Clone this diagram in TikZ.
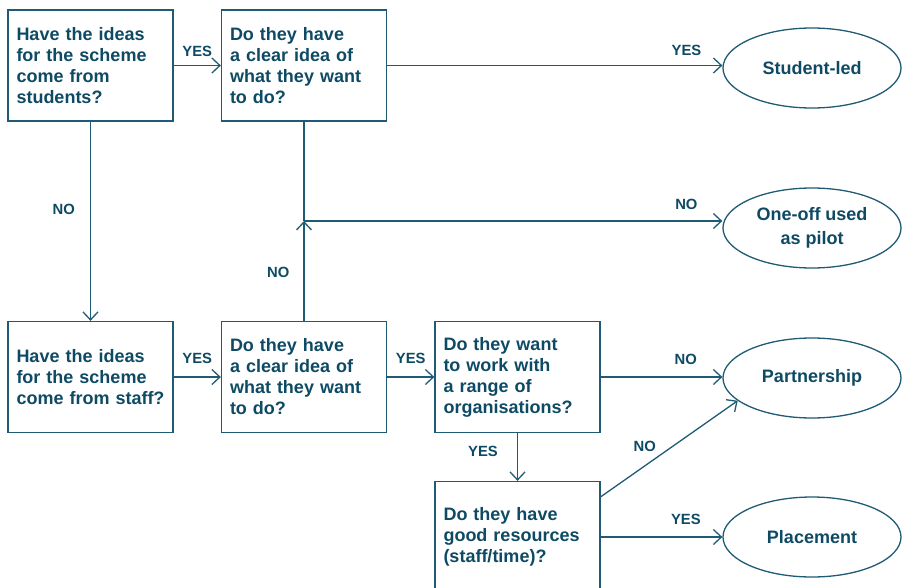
\documentclass[tikz,border=0pt]{standalone}
\usepackage{fontspec}
\setmainfont{Liberation Sans}
\usetikzlibrary{shapes.geometric,arrows.meta,calc}
\definecolor{ink}{HTML}{0E4A64}
\definecolor{linec}{HTML}{1F5B74}
\begin{document}
\begin{tikzpicture}[x=1pt,y=-1pt,
  box/.style={draw=linec, line width=1.3pt, rectangle, minimum width=165pt, minimum height=111pt,
    text width=148pt, inner xsep=8.5pt, align=left, text=ink,
    font=\fontsize{18}{21}\selectfont\bfseries},
  oval/.style={draw=linec, line width=1.3pt, ellipse, minimum width=178pt, minimum height=80pt,
    inner sep=0pt, text=ink, font=\fontsize{18}{24}\selectfont\bfseries, align=center},
  arr/.style={draw=linec, line width=1.3pt, -{Straight Barb[length=8pt,width=15pt,line width=1.3pt]}},
  ln/.style={draw=linec, line width=1.3pt},
  lbl/.style={text=ink, font=\fontsize{14.8}{16}\selectfont\bfseries, inner sep=0pt}]
\useasboundingbox (0,0) rectangle (908,587);
\node[box] (b1) at (90.5,65.5) {Have the ideas\\for the scheme\\come from\\students?};
\node[box] (b2) at (304,65.5) {Do they have\\a clear idea of\\what they want\\to do?};
\node[box] (b3) at (90.5,377) {Have the ideas\\for the scheme\\\mbox{come from staff?}};
\node[box] (b4) at (304,377) {Do they have\\a clear idea of\\what they want\\to do?};
\node[box] (b5) at (517.5,377) {Do they want\\to work with\\a range of\\organisations?};
\node[box] (b6) at (517.5,537) {Do they have\\good resources\\(staff/time)?};
\node[oval] (sl) at (812,68) {Student-led};
\node[oval] (oo) at (812,228) {One-off used\\as pilot};
\node[oval] (pa) at (812,378) {Partnership};
\node[oval] (pl) at (812,537) {Placement};
\coordinate (j) at (304,221);
\coordinate (d) at ($(b6.north east)+(0,16)$);
\draw[arr] (b1.east) -- node[lbl, above=8pt]{YES} (b2.west);
\draw[arr] (b2.east) -- node[lbl, pos=0.893, above=9pt]{YES} (b2.east -| sl.west);
\draw[arr] (b1.south) -- node[lbl, pos=0.44, left=15pt]{NO} (b3.north);
\draw[ln] (b2.south) -- (j);
\draw[arr] (b4.north) -- node[lbl, pos=0.485, left=14pt]{NO} (j);
\draw[arr] (j) -- node[lbl, pos=0.914, above=11pt]{NO} (j -| oo.west);
\draw[arr] (b3.east) -- node[lbl, above=13pt]{YES} (b4.west);
\draw[arr] (b4.east) -- node[lbl, above=13pt]{YES} (b5.west);
\draw[arr] (b5.east) -- node[lbl, pos=0.7, above=12pt]{NO} (b5.east -| pa.west);
\draw[arr] (b5.south) -- node[lbl, pos=0.39, left=19pt]{YES} (b6.north);
\draw[arr] (d) -- node[lbl, pos=0.43, above left=3pt]{NO} (pa.197);
\draw[arr] (b6.east |- pl.west) -- node[lbl, pos=0.7, above=12pt]{YES} (pl.west);
\end{tikzpicture}
\end{document}
